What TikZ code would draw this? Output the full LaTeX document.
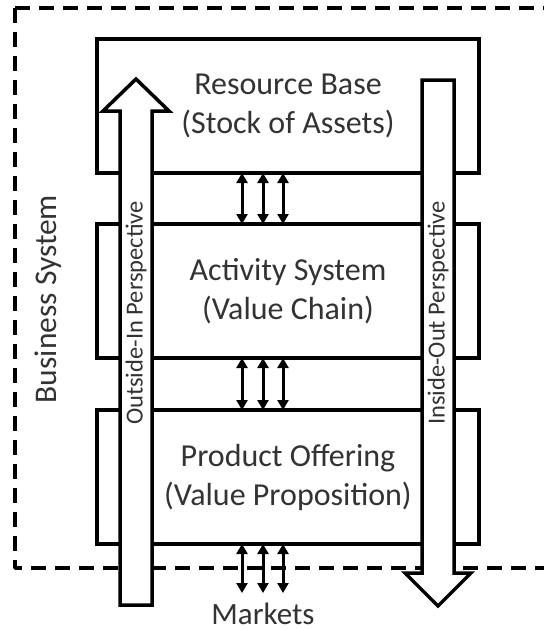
\documentclass[tikz,border=0pt]{standalone}
\usepackage{fontspec}
\setmainfont{Carlito}
\usetikzlibrary{arrows.meta}
\definecolor{ink}{HTML}{333333}
\begin{document}
\begin{tikzpicture}[x=1pt,y=-1pt,
  layer/.style={draw, line width=3.5pt, fill=white, minimum width=382pt, minimum height=134pt,
    inner sep=0pt, outer sep=0pt, align=center, text=ink, font=\fontsize{32}{39}\selectfont},
  link/.style={line width=3pt, {Triangle[length=10pt,width=11pt]}-{Triangle[length=10pt,width=11pt]}},
  bigarrow/.style={draw, line width=3.5pt, fill=white, line join=miter},
  vlabel/.style={rotate=90, text=ink, font=\fontsize{24.5}{28}\selectfont, inner sep=0pt},
  border/.style={line width=3.5pt, dash pattern=on 15pt off 9pt, line join=round}]
\useasboundingbox (0,0) rectangle (544,630);

% business system boundary (open to the right)
\draw[border] (15,8) -- (544,8);
\draw[border] (15,8) -- (15,568) -- (544,568);

% the three layers
\node[layer] (res) at (288,106) {Resource Base\\(Stock of Assets)};
\node[layer] (act) at (288,291) {Activity System\\(Value Chain)};
\node[layer] (prod) at (288,477) {Product Offering\\(Value Proposition)};

% markets label
\node[text=ink, font=\fontsize{31}{37}\selectfont, inner sep=0pt, anchor=base] (mk) at (263,624) {Markets};
\coordinate (mkt) at (263,593);

% links between layers
\foreach \dx in {-46,-25,-5}{
  \draw[link] ([xshift=\dx pt]res.south) -- ([xshift=\dx pt]act.north);
  \draw[link] ([xshift=\dx pt]act.south) -- ([xshift=\dx pt]prod.north);
  \draw[link] ([xshift=\dx pt]prod.south) -- ([xshift=\dx pt]prod.south |- mkt);
}

% perspective arrows
\draw[bigarrow] (120,605) -- (120,111) -- (103,111) -- (136,79) -- (169,111) -- (152,111) -- (152,605) -- cycle;
\draw[bigarrow] (422,80) -- (422,573) -- (405,573) -- (438,606) -- (471,573) -- (454,573) -- (454,80) -- cycle;
\node[vlabel] (oi) at (136,313) {Outside-In Perspective};
\node[vlabel] (io) at (438,313) {Inside-Out Perspective};

% system label
\node[rotate=90, text=ink, font=\fontsize{31.5}{38}\selectfont, inner sep=0pt] (bs) at (48,299) {Business System};
\end{tikzpicture}
\end{document}
